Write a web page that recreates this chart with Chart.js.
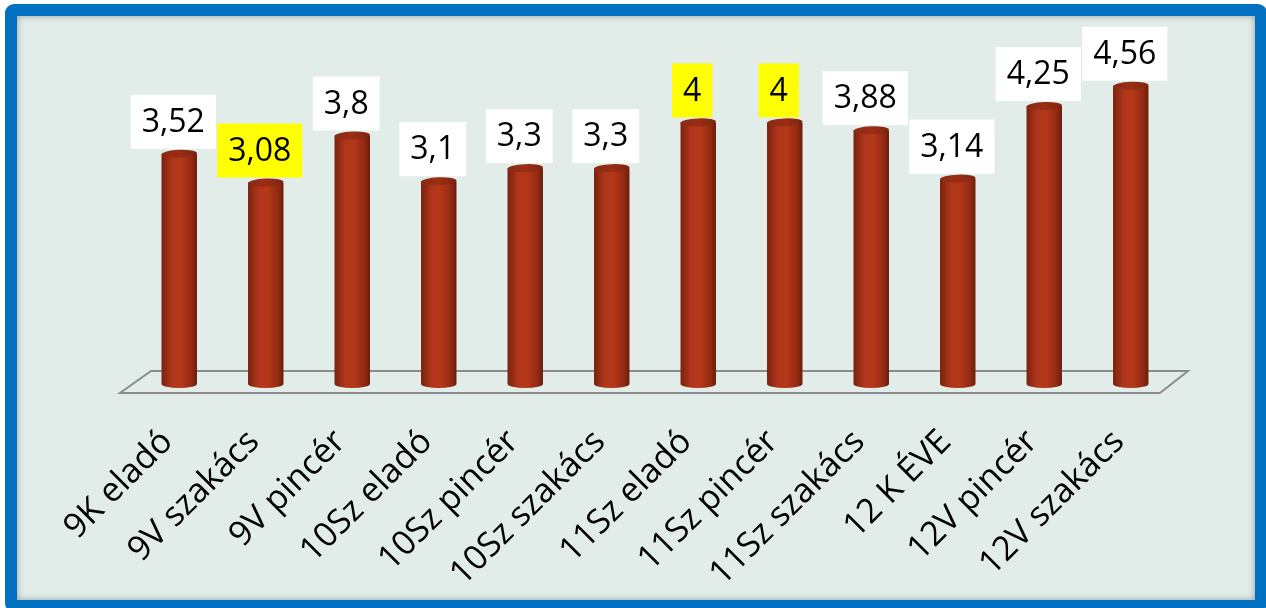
<!DOCTYPE html>
<html>
<head>
<meta charset="utf-8">
<script src="https://cdn.jsdelivr.net/npm/chart.js@4"></script>
<style>
  html, body { margin: 0; padding: 0; background: #fff; }
  #wrap { position: relative; width: 1266px; height: 608px; overflow: hidden; }
  #frame {
    position: absolute; left: 5px; top: 4px; right: -1px; bottom: -4px;
    border: 12px solid #0070C0; border-radius: 9px;
    background: #E2EDE9;
    box-shadow: inset 0 0 7px rgba(0,0,0,0.35);
  }
  #myChart { position: absolute; left: 0; top: 0; }
</style>
</head>
<body>
<div id="wrap">
  <div id="frame"></div>
  <canvas id="myChart" width="1266" height="608"></canvas>
</div>
<script>
// data
var categories = ['9K eladó','9V szakács','9V pincér','10Sz eladó','10Sz pincér','10Sz szakács','11Sz eladó','11Sz pincér','11Sz szakács','12 K ÉVE','12V pincér','12V szakács']
var values = [3.52, 3.08, 3.8, 3.1, 3.3, 3.3, 4, 4, 3.88, 3.14, 4.25, 4.56]
var valueLabels = ['3,52','3,08','3,8','3,1','3,3','3,3','4','4','3,88','3,14','4,25','4,56']
var highlighted = [false, true, false, false, false, false, true, true, false, false, false, false]

var FONT = "'Open Sans', 'DejaVu Sans', sans-serif"

// floor + cylinders + value boxes
var cylinders = {
  id: 'cylinders',
  beforeDatasetsDraw: function(chart) {
    var a = chart.chartArea
    var ctx = chart.ctx
    ctx.save()
    ctx.strokeStyle = '#8C8C8C'
    ctx.lineWidth = 2
    ctx.beginPath()
    ctx.moveTo(a.left - 16, a.bottom + 9)
    ctx.lineTo(a.right - 14, a.bottom + 9)
    ctx.lineTo(a.right + 14, a.bottom - 13)
    ctx.lineTo(a.left + 15, a.bottom - 13)
    ctx.closePath()
    ctx.stroke()
    ctx.restore()
  },
  afterDatasetsDraw: function(chart) {
    var ctx = chart.ctx
    var meta = chart.getDatasetMeta(0)
    meta.data.forEach(function(bar, i) {
      var w = bar.width, x = bar.x, top = bar.y, base = bar.base
      var l = x - w / 2, r = x + w / 2
      var g = ctx.createLinearGradient(l, 0, r, 0)
      g.addColorStop(0, '#7A220E')
      g.addColorStop(0.3, '#B0361A')
      g.addColorStop(0.55, '#B43818')
      g.addColorStop(0.85, '#922A12')
      g.addColorStop(1, '#6A1D0B')
      ctx.save()
      ctx.fillStyle = g
      ctx.beginPath()
      ctx.moveTo(l, top)
      ctx.lineTo(l, base)
      ctx.ellipse(x, base, w / 2, 4, 0, Math.PI, 0, true)
      ctx.lineTo(r, top)
      ctx.closePath()
      ctx.fill()
      // top cap
      var g2 = ctx.createLinearGradient(l, 0, r, 0)
      g2.addColorStop(0, '#8A2A14')
      g2.addColorStop(0.5, '#9A2E14')
      g2.addColorStop(1, '#7E2410')
      ctx.fillStyle = g2
      ctx.beginPath()
      ctx.ellipse(x, top, w / 2, 4, -0.04, 0, Math.PI * 2)
      ctx.fill()

      // value box
      ctx.font = '32px ' + FONT
      var txt = valueLabels[i]
      var tw = ctx.measureText(txt).width
      var bw = tw + 22, bh = 54
      var bx = x - 6 - bw / 2, by = top - 5 - bh
      ctx.fillStyle = highlighted[i] ? '#FFFF00' : '#FFFFFF'
      ctx.fillRect(bx, by, bw, bh)
      ctx.fillStyle = '#000'
      ctx.textAlign = 'center'
      ctx.textBaseline = 'middle'
      ctx.fillText(txt, x - 6, by + bh / 2 + 1)
      ctx.restore()
    })
  }
}

var ctx = document.getElementById('myChart')
var myChart = new Chart(ctx, {
  type: 'bar',
  data: {
    labels: categories,
    datasets: [{
      data: values,
      backgroundColor: 'rgba(0,0,0,0)',
      categoryPercentage: 1,
      barPercentage: 0.41
    }]
  },
  options: {
    responsive: false,
    animation: false,
    layout: { padding: { left: 136, right: 92, top: 57, bottom: 0 } },
    plugins: { legend: { display: false }, tooltip: { enabled: false } },
    scales: {
      y: { display: false, min: 0, max: 5 },
      x: {
        grid: { display: false, drawTicks: false },
        border: { display: false },
        ticks: {
          autoSkip: false,
          minRotation: 45,
          maxRotation: 45,
          padding: 38,
          labelOffset: -12,
          color: '#000',
          font: { family: FONT, size: 34 }
        },
        afterFit: function(scale) { scale.height = 224 }
      }
    }
  },
  plugins: [cylinders]
})
</script>
</body>
</html>
